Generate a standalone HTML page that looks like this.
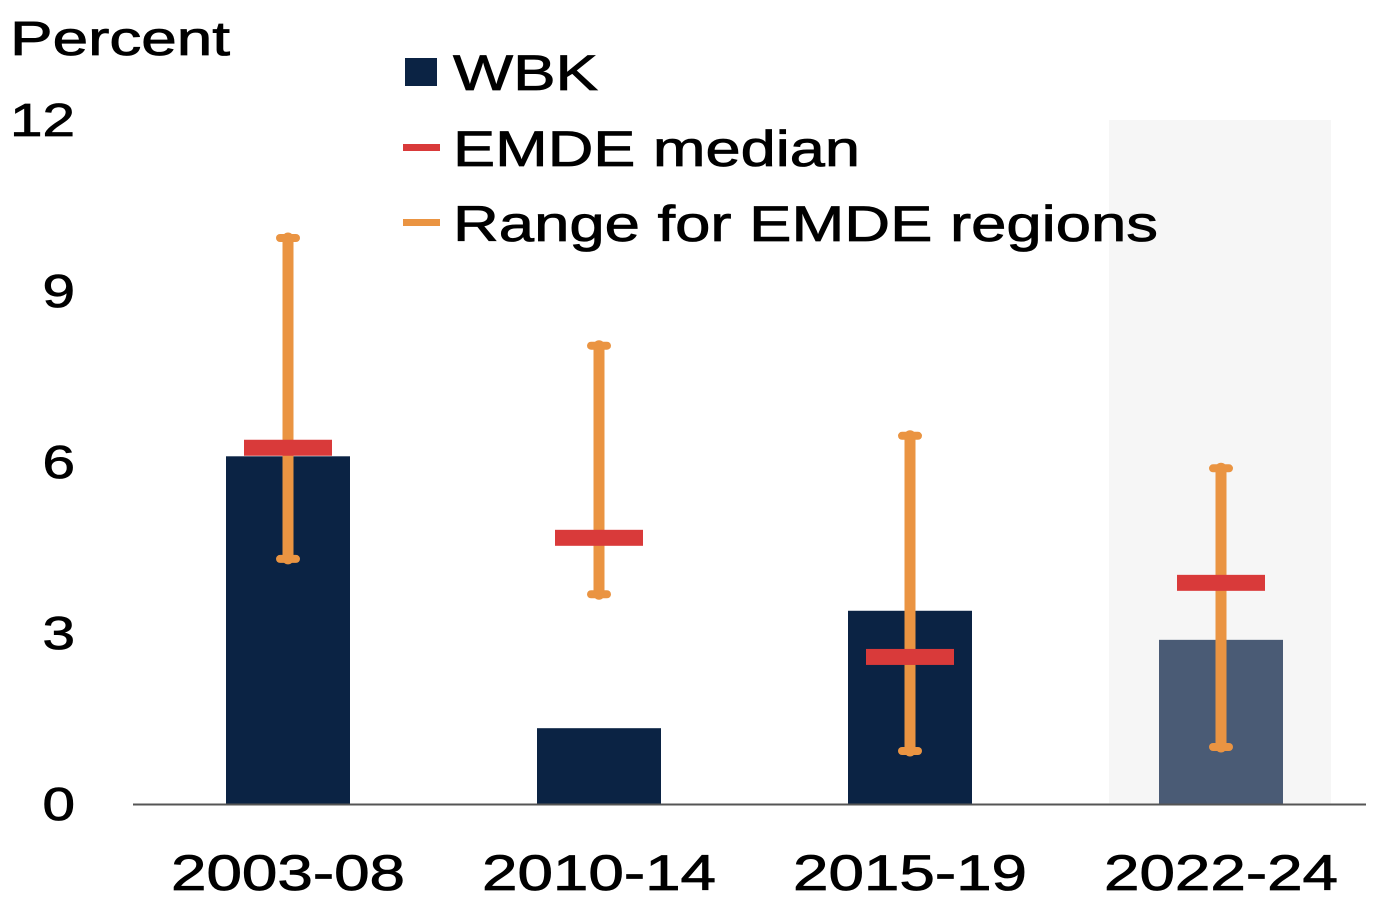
<!DOCTYPE html>
<html><head><meta charset="utf-8"><style>
body{margin:0;background:#fff;}
svg{display:block;font-family:"Liberation Sans",Arial,sans-serif;}
text{stroke:#000;stroke-width:0.8;}
</style></head><body>
<svg id="chart" width="1386" height="910" viewBox="0 0 1386 910">
<rect x="1109" y="120" width="222" height="684" fill="#f6f6f6"/>
<text x="10" y="55" font-size="48" textLength="220" lengthAdjust="spacingAndGlyphs">Percent</text>
<g id="yticks"></g>
<g id="bars"></g>
<line x1="133" y1="804.5" x2="1366" y2="804.5" stroke="#555" stroke-width="2"/>
<g id="xlabels"></g>
<g>
<g><rect x="405" y="58" width="32" height="28" fill="#0b2344"/><text x="453" y="90" font-size="50" textLength="145" lengthAdjust="spacingAndGlyphs">WBK</text></g>
<g><rect x="403" y="144" width="37" height="7" fill="#d93a3a"/><text x="453" y="166" font-size="50" textLength="407" lengthAdjust="spacingAndGlyphs">EMDE median</text></g>
<g><rect x="403" y="219" width="37" height="7" fill="#ea9442"/><text x="453" y="241" font-size="50" textLength="705" lengthAdjust="spacingAndGlyphs">Range for EMDE regions</text></g>
</g>
</svg>
<script>
const categories=["2003-08","2010-14","2015-19","2022-24"];
const wbk=[6.1,1.33,3.39,2.88];
const median=[6.25,4.67,2.58,3.88];
const rangeMin=[4.3,3.68,0.93,1.0];
const rangeMax=[9.93,8.04,6.46,5.89];
const yTicks=[0,3,6,9,12];
const NS="http://www.w3.org/2000/svg";
const x0=132.5,yBase=804,yTop=120,yMax=12;
const y=v=>yBase-(v/yMax)*(yBase-yTop);
const bw=311;
const xc=i=>x0+bw*(i+0.5);
function mk(tag,attrs,parent){const e=document.createElementNS(NS,tag);for(const k in attrs)e.setAttribute(k,attrs[k]);parent.appendChild(e);return e;}
const yt=document.getElementById('yticks');
yTicks.forEach(t=>{const s=String(t);const e=mk('text',{x:75-s.length*32.5,y:y(t)+16,'font-size':46,textLength:s.length*32.5,lengthAdjust:'spacingAndGlyphs'},yt);e.textContent=s;

});
const bars=document.getElementById('bars');
categories.forEach((c,i)=>{
const r=mk('rect',{x:xc(i)-62,y:y(wbk[i]),width:124,height:yBase-y(wbk[i]),fill:i==3?'#4a5b75':'#0b2344'},bars);


const l=mk('line',{x1:xc(i),x2:xc(i),y1:y(rangeMin[i]),y2:y(rangeMax[i]),stroke:'#ea9442','stroke-width':11,'stroke-linecap':'round'},bars);


[rangeMin[i],rangeMax[i]].forEach(v=>{const cap=mk('line',{x1:xc(i)-8,x2:xc(i)+8,y1:y(v),y2:y(v),stroke:'#ea9442','stroke-width':8,'stroke-linecap':'round'},bars);

});
const m=mk('rect',{x:xc(i)-44,y:y(median[i])-8,width:88,height:16,fill:'#d93a3a'},bars);


const t=mk('text',{x:xc(i)-117,y:890,'font-size':50,textLength:234,lengthAdjust:'spacingAndGlyphs'},document.getElementById('xlabels'));
t.textContent=c;


});
</script>
</body></html>
